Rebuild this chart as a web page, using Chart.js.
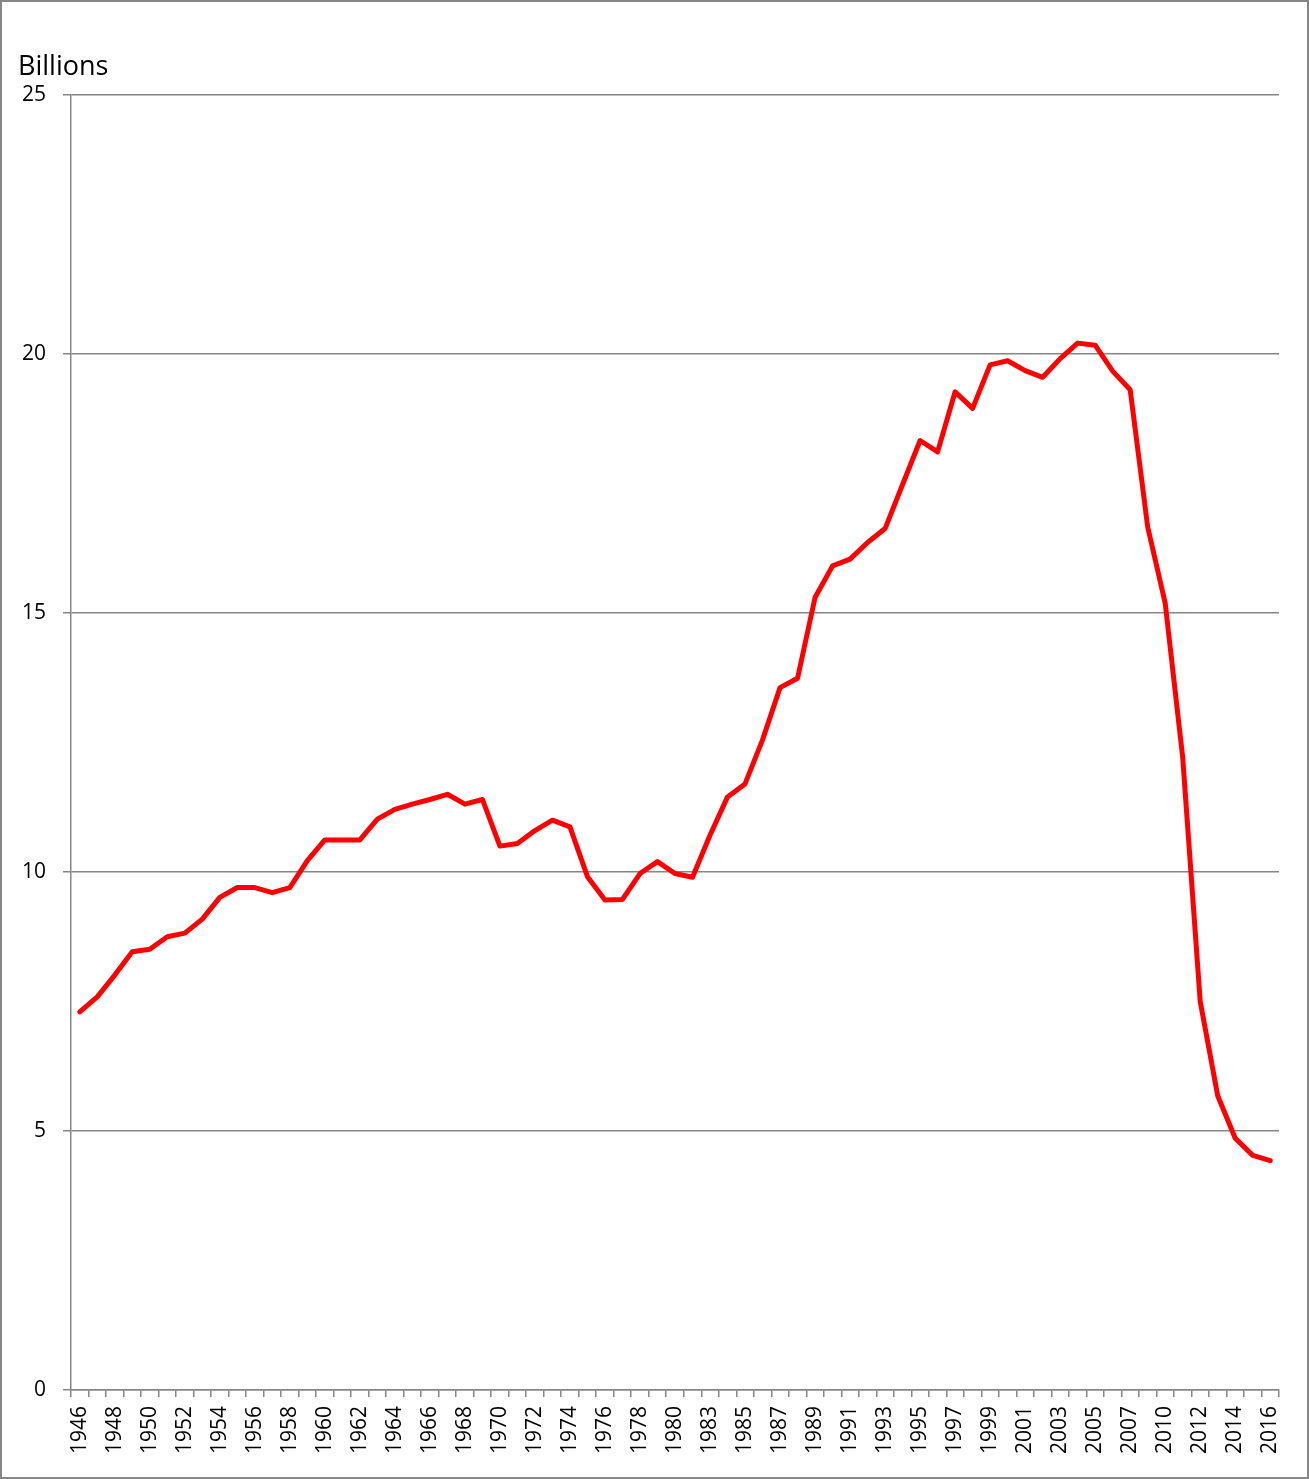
<!DOCTYPE html>
<html>
<head>
<meta charset="utf-8">
<script src="https://cdn.jsdelivr.net/npm/chart.js@4"></script>
<style>
  body { margin: 0; background: #fff; }
</style>
</head>
<body>
<canvas id="chart" width="1309" height="1479"></canvas>
<script>
// years on the category axis (1982 and 2009 are absent in the source)
const years = [
  "1946", "1947", "1948", "1949", "1950", "1951", "1952", "1953", "1954", "1955",
  "1956", "1957", "1958", "1959", "1960", "1961", "1962", "1963", "1964", "1965",
  "1966", "1967", "1968", "1969", "1970", "1971", "1972", "1973", "1974", "1975",
  "1976", "1977", "1978", "1979", "1980", "1981", "1983", "1984", "1985", "1986",
  "1987", "1988", "1989", "1990", "1991", "1992", "1993", "1994", "1995", "1996",
  "1997", "1998", "1999", "2000", "2001", "2002", "2003", "2004", "2005", "2006",
  "2007", "2008", "2010", "2011", "2012", "2013", "2014", "2015", "2016"
];

// values in billions
const billions = [
  7.30, 7.59, 8.01, 8.46, 8.51, 8.75, 8.82, 9.09, 9.51, 9.70,
  9.70, 9.60, 9.70, 10.22, 10.62, 10.62, 10.62, 11.02, 11.21, 11.31,
  11.40, 11.50, 11.31, 11.40, 10.50, 10.55, 10.80, 11.00, 10.87, 9.91,
  9.46, 9.47, 9.97, 10.20, 9.97, 9.90, 10.71, 11.45, 11.70, 12.55,
  13.56, 13.74, 15.30, 15.91, 16.04, 16.36, 16.63, 17.48, 18.33, 18.11,
  19.27, 18.95, 19.79, 19.87, 19.68, 19.55, 19.91, 20.21, 20.17, 19.67,
  19.31, 16.66, 15.19, 12.21, 7.50, 5.68, 4.86, 4.53, 4.43
];

const yTicks = [0, 5, 10, 15, 20, 25];
const unitLabel = "Billions";

const gridGray = "#868686";
const tickFont = { family: "'Open Sans', sans-serif", size: 21 };

const frame = {
  id: "frame",
  beforeDraw(chart) {
    const { ctx, width, height } = chart;
    ctx.save();
    ctx.fillStyle = "#fff";
    ctx.fillRect(0, 0, width, height);
    ctx.restore();
  },
  afterDraw(chart) {
    const { ctx, width, height, chartArea } = chart;
    ctx.save();
    ctx.strokeStyle = gridGray;
    ctx.lineWidth = 2;
    ctx.strokeRect(1, 1, width - 2, height - 2);
    ctx.fillStyle = "#000";
    ctx.font = "27px 'Open Sans', sans-serif";
    ctx.textBaseline = "middle";
    ctx.textAlign = "left";
    ctx.fillText(unitLabel, 18, chartArea.top - 28);
    ctx.restore();
  }
};

new Chart(document.getElementById("chart"), {
  type: "line",
  data: {
    labels: years,
    datasets: [
      {
        label: unitLabel,
        data: billions,
        borderColor: "#ff0000",
        borderWidth: 5,
        pointRadius: 0,
        tension: 0,
        borderJoinStyle: "round",
        borderCapStyle: "round",
        fill: false
      }
    ]
  },
  options: {
    responsive: false,
    animation: false,
    layout: { padding: { top: 95, left: 19, right: 30, bottom: 9 } },
    plugins: {
      legend: { display: false },
      tooltip: { enabled: false }
    },
    scales: {
      x: {
        type: "category",
        offset: true,
        afterFit: (scale) => { scale.height = 80; },
        grid: {
          offset: true,
          drawOnChartArea: false,
          drawTicks: true,
          tickLength: 7,
          color: gridGray,
          lineWidth: 1.5
        },
        border: { color: gridGray, width: 1.5 },
        ticks: {
          autoSkip: false,
          maxRotation: 90,
          minRotation: 90,
          padding: 9,
          color: "#000",
          font: tickFont,
          callback: function (value, index) {
            return index % 2 === 0 ? this.getLabelForValue(value) : "";
          }
        }
      },
      y: {
        min: yTicks[0],
        max: yTicks[yTicks.length - 1],
        afterFit: (scale) => { scale.width = 52; },
        afterBuildTicks: (scale) => { scale.ticks = yTicks.map((v) => ({ value: v })); },
        grid: {
          color: gridGray,
          lineWidth: 1.5,
          tickLength: 8
        },
        border: { color: gridGray, width: 1.5 },
        ticks: {
          padding: 17,
          color: "#000",
          font: tickFont
        }
      }
    }
  },
  plugins: [frame]
});
</script>
</body>
</html>
